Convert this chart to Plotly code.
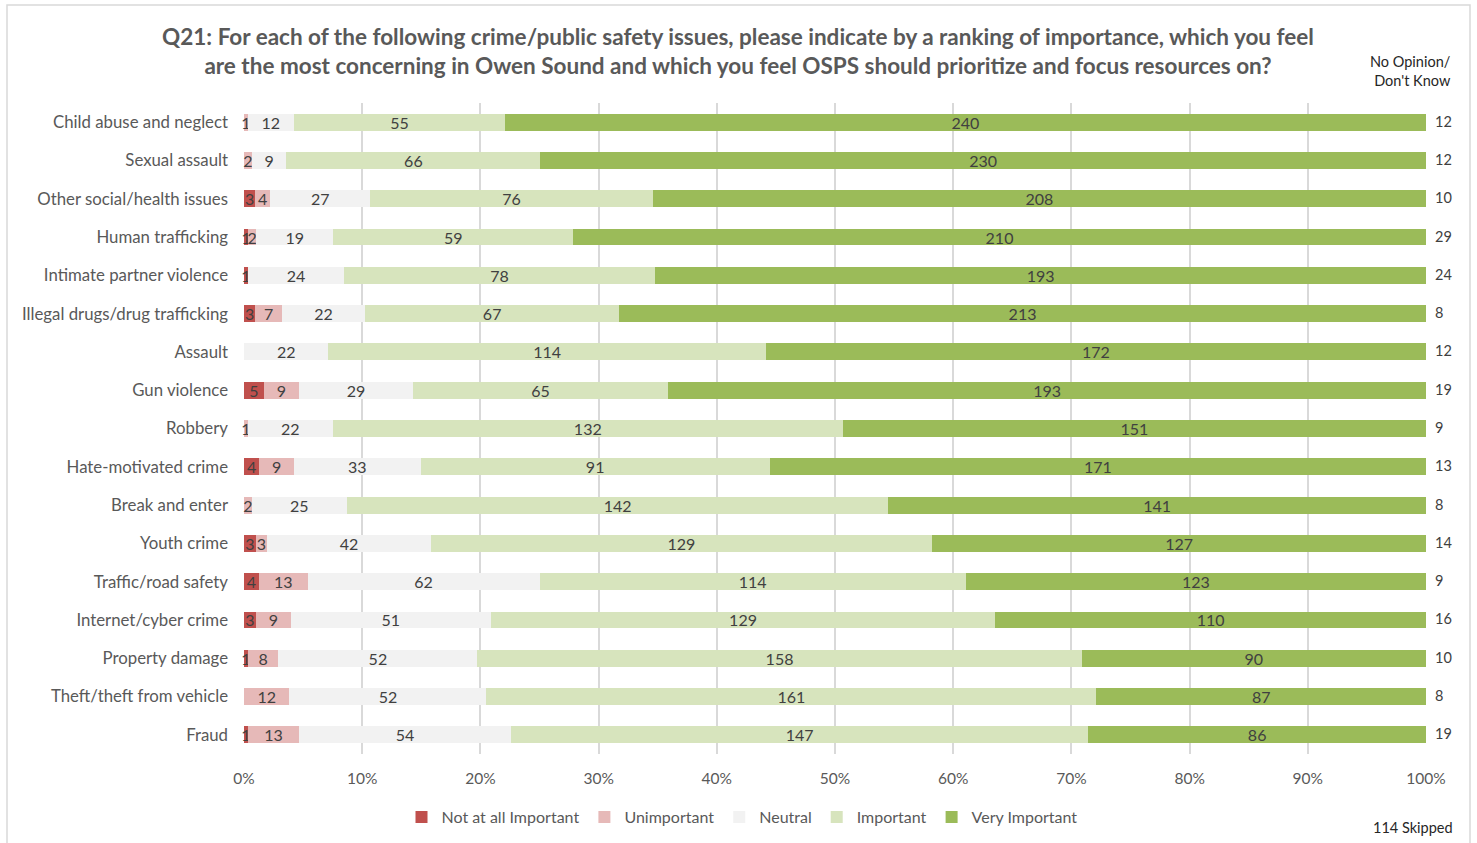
import plotly.graph_objects as go

categories = ["Child abuse and neglect", "Sexual assault", "Other social/health issues",
              "Human trafficking", "Intimate partner violence", "Illegal drugs/drug trafficking",
              "Assault", "Gun violence", "Robbery", "Hate-motivated crime", "Break and enter",
              "Youth crime", "Traffic/road safety", "Internet/cyber crime", "Property damage",
              "Theft/theft from vehicle", "Fraud"]
not_at_all = [0, 0, 3, 1, 1, 3, 0, 5, 0, 4, 0, 3, 4, 3, 1, 0, 1]
unimportant = [1, 2, 4, 2, 0, 7, 0, 9, 1, 9, 2, 3, 13, 9, 8, 12, 13]
neutral = [12, 9, 27, 19, 24, 22, 22, 29, 22, 33, 25, 42, 62, 51, 52, 52, 54]
important = [55, 66, 76, 59, 78, 67, 114, 65, 132, 91, 142, 129, 114, 129, 158, 161, 147]
very_important = [240, 230, 208, 210, 193, 213, 172, 193, 151, 171, 141, 127, 123, 110, 90, 87, 86]
no_opinion = [12, 12, 10, 29, 24, 8, 12, 19, 9, 13, 8, 14, 9, 16, 10, 8, 19]

series = [("Not at all Important", not_at_all, "#C0504D"),
          ("Unimportant", unimportant, "#E6B9B8"),
          ("Neutral", neutral, "#F2F2F2"),
          ("Important", important, "#D7E4BD"),
          ("Very Important", very_important, "#9BBB59")]

totals = [sum(s[1][i] for s in series) for i in range(len(categories))]

FONT = "Lato"
TXT = "#404040"
fig = go.Figure()
for name, vals, col in series:
    frac = [v / t for v, t in zip(vals, totals)]
    fig.add_trace(go.Bar(
        name=name, y=categories, x=frac, orientation="h",
        marker=dict(color=col, line=dict(width=0)),
        text=[str(v) if v > 0 else "" for v in vals],
        textposition="inside", insidetextanchor="middle", textangle=0,
        constraintext="none", cliponaxis=False,
        textfont=dict(family=FONT, size=16, color=TXT),
        hoverinfo="skip",
    ))

for c, n in zip(categories, no_opinion):
    fig.add_annotation(x=1.0, xref="paper", y=c, yref="y", text=str(n), showarrow=False,
                       xanchor="left", xshift=7, yshift=1, font=dict(family=FONT, size=14.5, color=TXT))

px0, px1, py0, py1 = 244, 1426, 103, 754
def xp(px):
    return (px - px0) / (px1 - px0)
def yp(py):
    return (py1 - py) / (py1 - py0)

fig.add_annotation(x=xp(1453), y=yp(71), xref="paper", yref="paper", xanchor="right", yanchor="middle",
                   text="No Opinion/<br>Don't Know", showarrow=False, align="right",
                   font=dict(family=FONT, size=14.5, color="#262626"))
fig.add_annotation(x=xp(1455), y=yp(827), xref="paper", yref="paper", xanchor="right", yanchor="middle",
                   text="114 Skipped", showarrow=False, font=dict(family=FONT, size=14.5, color="#262626"))

fig.add_shape(type="rect", xref="paper", yref="paper", x0=xp(7), x1=xp(1470), y0=yp(5), y1=yp(850),
              line=dict(color="#D9D9D9", width=1.5), fillcolor="rgba(0,0,0,0)", layer="below")

fig.update_layout(
    width=1477, height=843,
    margin=dict(l=px0, r=1477 - px1, t=py0, b=843 - py1, autoexpand=False),
    barmode="stack", bargap=0.56,
    paper_bgcolor="white", plot_bgcolor="white",
    font=dict(family=FONT, color="#595959"),
    title=dict(text="<b>Q21: For each of the following crime/public safety issues, please indicate by a ranking of importance, which you feel<br>are the most concerning in Owen Sound and which you feel OSPS should prioritize and focus resources on?</b>",
               x=738 / 1477, xref="container", xanchor="center", y=1 - 45 / 843, yref="container", yanchor="middle",
               font=dict(family=FONT, size=22.5, color="#595959")),
    xaxis=dict(range=[0, 1], dtick=0.1, tickformat=".0%", showgrid=True, gridcolor="#D9D9D9", gridwidth=1.5,
               zeroline=False, showline=False, ticks="", ticklabelstandoff=13,
               tickfont=dict(family=FONT, size=15.5, color="#595959")),
    yaxis=dict(autorange="reversed", showgrid=False, ticks="", ticklabelstandoff=15,
               tickfont=dict(family=FONT, size=16.8, color="#595959")),
    legend=dict(orientation="h", x=xp(742), xanchor="center", y=yp(817), yanchor="middle",
                font=dict(family=FONT, size=16, color="#595959"), traceorder="normal",
                itemwidth=30, tracegroupgap=0),
    showlegend=True,
)

fig.write_html("out.html")
